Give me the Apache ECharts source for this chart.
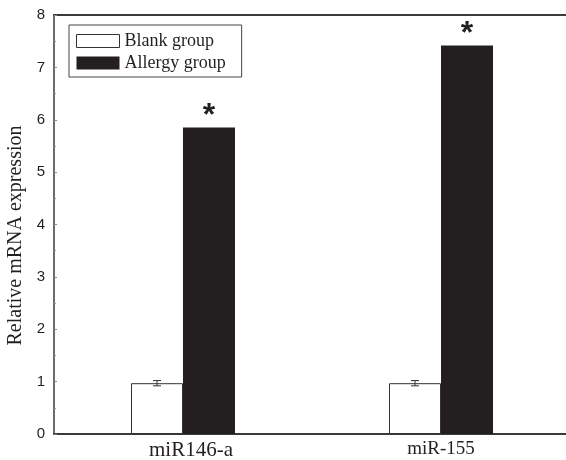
<!DOCTYPE html>
<html>
<head>
<meta charset="utf-8">
<script src="https://cdn.jsdelivr.net/npm/echarts@6/dist/echarts.min.js"></script>
<style>html,body{margin:0;padding:0;background:#fff;overflow:hidden;width:566px;height:460px}#c{width:576px;height:460px}</style>
</head>
<body>
<div id="c"></div>
<script>
const categories = ['miR146-a', 'miR-155'];
const blankValues = [0.97, 0.97];
const blankErrors = [0.05, 0.05];
const allergyValues = [5.85, 7.42];
const significance = ['*', '*'];
const yTicks = [0, 1, 2, 3, 4, 5, 6, 7, 8];

const BAR_W = 52;
const ink = '#231f20';
const axisCol = '#3a3a3a';
const chart = echarts.init(document.getElementById('c'));

chart.setOption({
  animation: false,
  backgroundColor: '#fff',
  grid: { left: 54, right: 6, top: 15, bottom: 26, outerBoundsMode: 'none', containLabel: false, show: false },
  legend: {
    orient: 'vertical', left: 69, top: 25,
    padding: [7, 16, 5, 7], itemGap: 4,
    itemWidth: 43, itemHeight: 13, icon: 'rect',
    borderColor: '#444', borderWidth: 1,
    textStyle: { fontFamily: 'Liberation Serif', fontSize: 18, color: ink },
    data: [
      { name: 'Blank group', itemStyle: { color: '#fff', borderColor: '#333', borderWidth: 1 } },
      { name: 'Allergy group', itemStyle: { color: ink, borderWidth: 0 } }
    ]
  },
  xAxis: [
    {
      type: 'category', data: categories,
      axisLine: { lineStyle: { color: axisCol, width: 2 } },
      axisTick: { show: false }, splitLine: { show: false },
      axisLabel: { fontFamily: 'Liberation Serif', fontSize: 19, color: ink, margin: 6,
        formatter: (v, i) => i === 0 ? '{w|' + v + '}' : v,
        rich: { w: { fontFamily: 'Liberation Serif', fontSize: 21, color: ink, padding: [0, 0, 0, 16] } } }
    },
    {
      type: 'category', data: categories, position: 'top',
      axisLine: { show: true, lineStyle: { color: axisCol, width: 2 } },
      axisTick: { show: false }, axisLabel: { show: false }, splitLine: { show: false }
    }
  ],
  yAxis: {
    type: 'value', min: 0, max: 8, interval: 1,
    name: 'Relative mRNA expression', nameLocation: 'middle', nameGap: 18,
    nameTextStyle: { fontFamily: 'Liberation Serif', fontSize: 20, color: ink, padding: [0, 22, 0, 0] },
    axisLine: { show: true, lineStyle: { color: axisCol, width: 1.5 } },
    axisTick: { show: true, inside: true, length: 3, lineStyle: { color: '#888' } },
    minorTick: { show: true, splitNumber: 2, length: 2, lineStyle: { color: '#999' } },
    splitLine: { show: false },
    axisLabel: { fontFamily: 'Liberation Sans', fontSize: 15, color: ink, margin: 9,
      formatter: v => yTicks.includes(v) ? String(v) : '' }
  },
  series: [
    {
      name: 'Blank group', type: 'bar', data: blankValues, barWidth: BAR_W, barGap: '0%',
      itemStyle: { color: '#fff', borderColor: '#333', borderWidth: 1 }
    },
    {
      name: 'Allergy group', type: 'bar', data: allergyValues, barWidth: BAR_W,
      itemStyle: { color: ink },
      label: { show: true, position: 'top', distance: 0, formatter: p => significance[p.dataIndex],
        fontFamily: 'Liberation Sans', fontSize: 32, fontWeight: 'bold', color: ink, lineHeight: 22 }
    },
    {
      name: 'err', type: 'custom', silent: true, z: 5,
      data: blankValues.map((v, i) => [i, v - blankErrors[i], v + blankErrors[i]]),
      renderItem: (params, api) => {
        const lo = api.coord([api.value(0), api.value(1)]);
        const hi = api.coord([api.value(0), api.value(2)]);
        const x = lo[0] - BAR_W / 2;
        const cap = 4;
        const style = { stroke: '#333', lineWidth: 1 };
        return { type: 'group', children: [
          { type: 'line', shape: { x1: x, y1: lo[1], x2: x, y2: hi[1] }, style },
          { type: 'line', shape: { x1: x - cap, y1: lo[1], x2: x + cap, y2: lo[1] }, style },
          { type: 'line', shape: { x1: x - cap, y1: hi[1], x2: x + cap, y2: hi[1] }, style }
        ]};
      }
    }
  ]
});
</script>
</body>
</html>
